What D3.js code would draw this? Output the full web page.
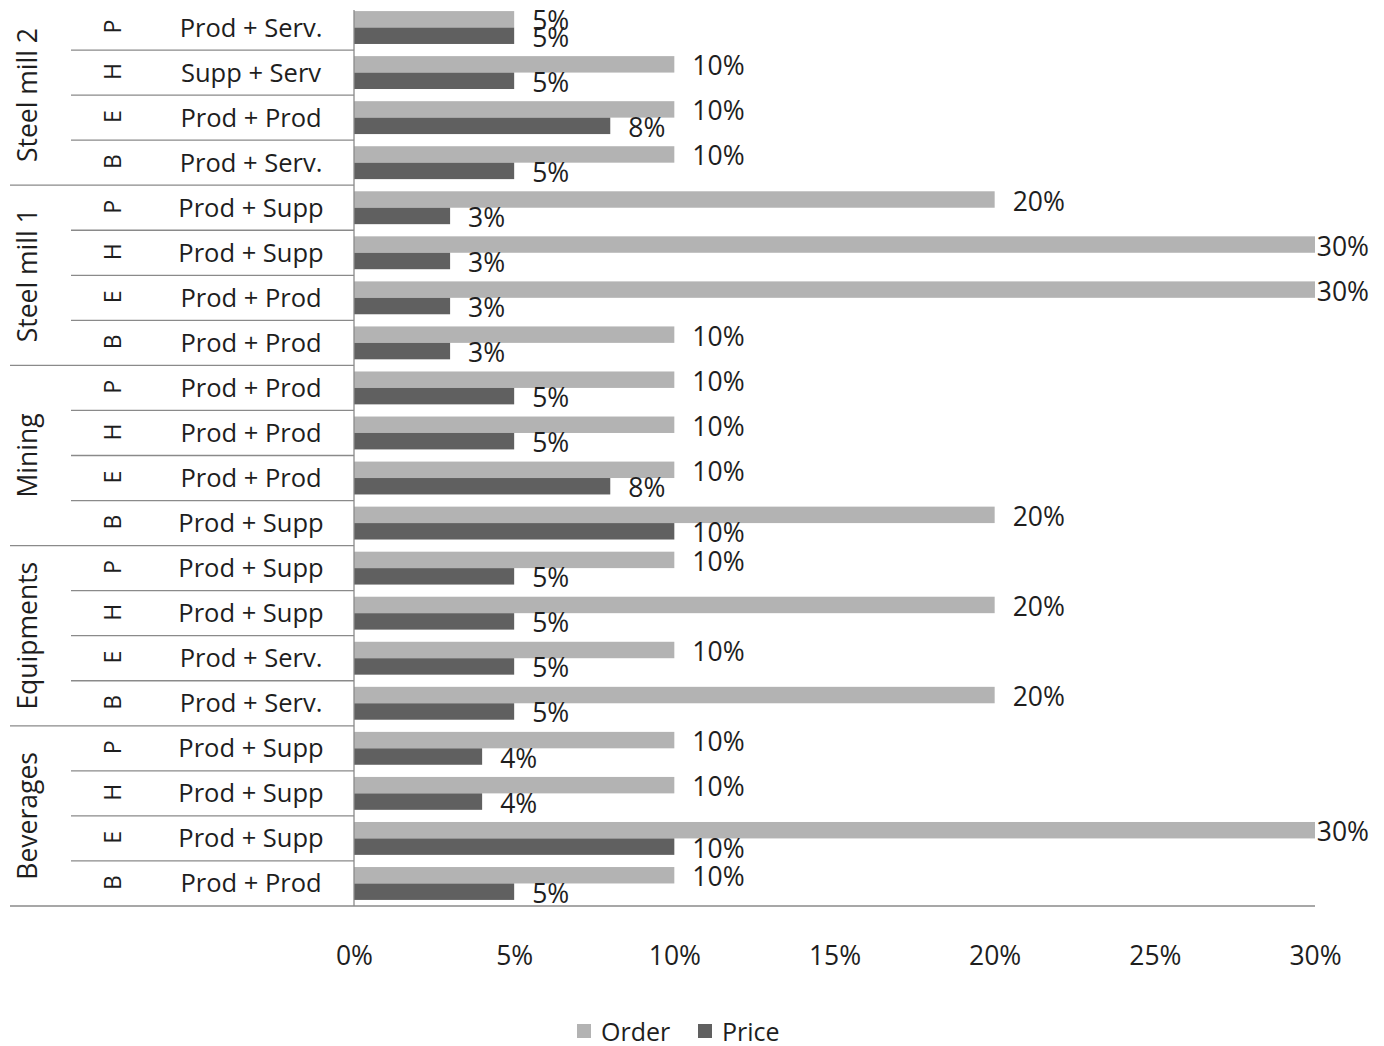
<!DOCTYPE html>
<html>
<head>
<meta charset="utf-8">
<script src="https://cdn.jsdelivr.net/npm/d3@7/dist/d3.min.js"></script>
<style>
  html, body { margin: 0; padding: 0; background: #fff; }
  svg { display: block; }
  text { font-family: "Open Sans", "Noto Sans", sans-serif; fill: #1e1e1e; }
</style>
</head>
<body>
<svg id="chart" width="1384" height="1046"></svg>
<script>
// Industries, bottom to top; each holds four respondents B, E, H, P
const industries = ["Beverages", "Equipments", "Mining", "Steel mill 1", "Steel mill 2"];
const respondents = ["B", "E", "H", "P"];

// Relationship type per row, bottom to top (industry-major, respondent-minor)
const relations = [
  "Prod + Prod", "Prod + Supp", "Prod + Supp", "Prod + Supp",
  "Prod + Serv.", "Prod + Serv.", "Prod + Supp", "Prod + Supp",
  "Prod + Supp", "Prod + Prod", "Prod + Prod", "Prod + Prod",
  "Prod + Prod", "Prod + Prod", "Prod + Supp", "Prod + Supp",
  "Prod + Serv.", "Prod + Prod", "Supp + Serv", "Prod + Serv."
];

// Series values (fractions), same row order
const orderValues = [
  0.10, 0.30, 0.10, 0.10,
  0.20, 0.10, 0.20, 0.10,
  0.20, 0.10, 0.10, 0.10,
  0.10, 0.30, 0.30, 0.20,
  0.10, 0.10, 0.10, 0.05
];
const priceValues = [
  0.05, 0.10, 0.04, 0.04,
  0.05, 0.05, 0.05, 0.05,
  0.10, 0.08, 0.05, 0.05,
  0.03, 0.03, 0.03, 0.03,
  0.05, 0.08, 0.05, 0.05
];

const seriesNames = ["Order", "Price"];
const seriesColors = ["#b3b3b3", "#606060"];
const xTicks = [0, 0.05, 0.10, 0.15, 0.20, 0.25, 0.30];

// Build row records
const rows = relations.map((rel, i) => ({
  id: i,
  industry: industries[Math.floor(i / respondents.length)],
  respondent: respondents[i % respondents.length],
  relation: rel,
  values: [orderValues[i], priceValues[i]]
}));

const svg = d3.select("#chart");
const fmtPct = d3.format(".0%");

const plot = { left: 354, right: 1315, top: 5, bottom: 906 };
const chartRight = 1369;
const lineColor = "#8a8a8a";

const x = d3.scaleLinear().domain([0, 0.30]).range([plot.left, plot.right]);
// Top row is the last record, so reverse for a top-to-bottom band domain
const y = d3.scaleBand()
  .domain(rows.map(r => r.id).reverse())
  .range([plot.top, plot.bottom])
  .paddingInner(0.27)
  .paddingOuter(0.135);
const ySeries = d3.scaleBand().domain(d3.range(seriesNames.length)).range([0, y.bandwidth()]);
const step = y.step();

// Bars
const rowG = svg.append("g").selectAll("g").data(rows).join("g")
  .attr("transform", d => `translate(0,${y(d.id)})`);

rowG.selectAll("rect").data(d => d.values.map((v, s) => ({ v, s }))).join("rect")
  .attr("x", x(0))
  .attr("y", d => ySeries(d.s))
  .attr("width", d => x(d.v) - x(0))
  .attr("height", ySeries.bandwidth())
  .attr("fill", d => seriesColors[d.s]);

// Value labels, kept inside the chart area
rowG.selectAll("text.val").data(d => d.values.map((v, s) => ({ v, s }))).join("text")
  .attr("class", "val")
  .attr("font-size", 26.5)
  .attr("y", d => ySeries(d.s) + ySeries.bandwidth() / 2 + 1)
  .attr("dominant-baseline", "central")
  .text(d => fmtPct(d.v))
  .each(function (d) {
    const w = this.getComputedTextLength();
    this.setAttribute("x", Math.min(x(d.v) + 18, chartRight - w));
  });

// Category axis: vertical line and the multi-level label table
const axisG = svg.append("g");
const rowTop = i => plot.bottom - (i + 1) * step;   // top edge of row slot i
axisG.append("line")
  .attr("x1", plot.left).attr("x2", plot.left)
  .attr("y1", plot.top + 5).attr("y2", plot.bottom)
  .attr("stroke", lineColor).attr("stroke-width", 1.3);

// Separator lines: short ones between respondents, long ones between industries
rows.forEach((r, i) => {
  if (i === rows.length - 1) return;
  const yy = rowTop(i);
  const groupEdge = (i + 1) % respondents.length === 0;
  axisG.append("line")
    .attr("x1", groupEdge ? 10 : 71).attr("x2", plot.left)
    .attr("y1", yy).attr("y2", yy)
    .attr("stroke", lineColor).attr("stroke-width", 1.3);
});
axisG.append("line")
  .attr("x1", 10).attr("x2", plot.right)
  .attr("y1", plot.bottom).attr("y2", plot.bottom)
  .attr("stroke", lineColor).attr("stroke-width", 1.3);

// Relation labels
axisG.selectAll("text.rel").data(rows).join("text")
  .attr("class", "rel")
  .attr("x", 251)
  .attr("y", d => rowTop(d.id) + step / 2 - 1)
  .attr("text-anchor", "middle")
  .attr("dominant-baseline", "central")
  .attr("font-size", 25.5)
  .text(d => d.relation);

// Respondent letters, rotated
axisG.selectAll("text.resp").data(rows).join("text")
  .attr("class", "resp")
  .attr("transform", d => `translate(112,${rowTop(d.id) + step / 2 - 1}) rotate(-90)`)
  .attr("text-anchor", "middle")
  .attr("dominant-baseline", "central")
  .attr("font-size", 23)
  .text(d => d.respondent);

// Industry labels, rotated
axisG.selectAll("text.ind").data(industries).join("text")
  .attr("class", "ind")
  .attr("transform", (d, g) => {
    const yMid = plot.bottom - (g + 0.5) * respondents.length * step;
    return `translate(27,${yMid}) rotate(-90)`;
  })
  .attr("text-anchor", "middle")
  .attr("dominant-baseline", "central")
  .attr("font-size", 26.5)
  .text(d => d);

// Value axis tick labels
const xAxis = d3.axisBottom(x).tickValues(xTicks).tickFormat(fmtPct).tickSize(0).tickPadding(0);
const xg = svg.append("g").attr("transform", `translate(0,${955})`).call(xAxis);
xg.select(".domain").remove();
xg.selectAll("text")
  .attr("dy", null)
  .attr("y", 0)
  .attr("dominant-baseline", "central")
  .attr("font-size", 26.5)
  .attr("font-family", "Open Sans, Noto Sans, sans-serif")
  .attr("fill", "#1e1e1e");

// Legend
const legend = svg.append("g").attr("transform", "translate(0,1031)");
const legendX = [577, 698];
seriesNames.forEach((name, s) => {
  legend.append("rect")
    .attr("x", legendX[s]).attr("y", -7)
    .attr("width", 14).attr("height", 14)
    .attr("fill", seriesColors[s]);
  legend.append("text")
    .attr("x", legendX[s] + 24).attr("y", 0)
    .attr("dominant-baseline", "central")
    .attr("font-size", 25)
    .text(name);
});
</script>
</body>
</html>
